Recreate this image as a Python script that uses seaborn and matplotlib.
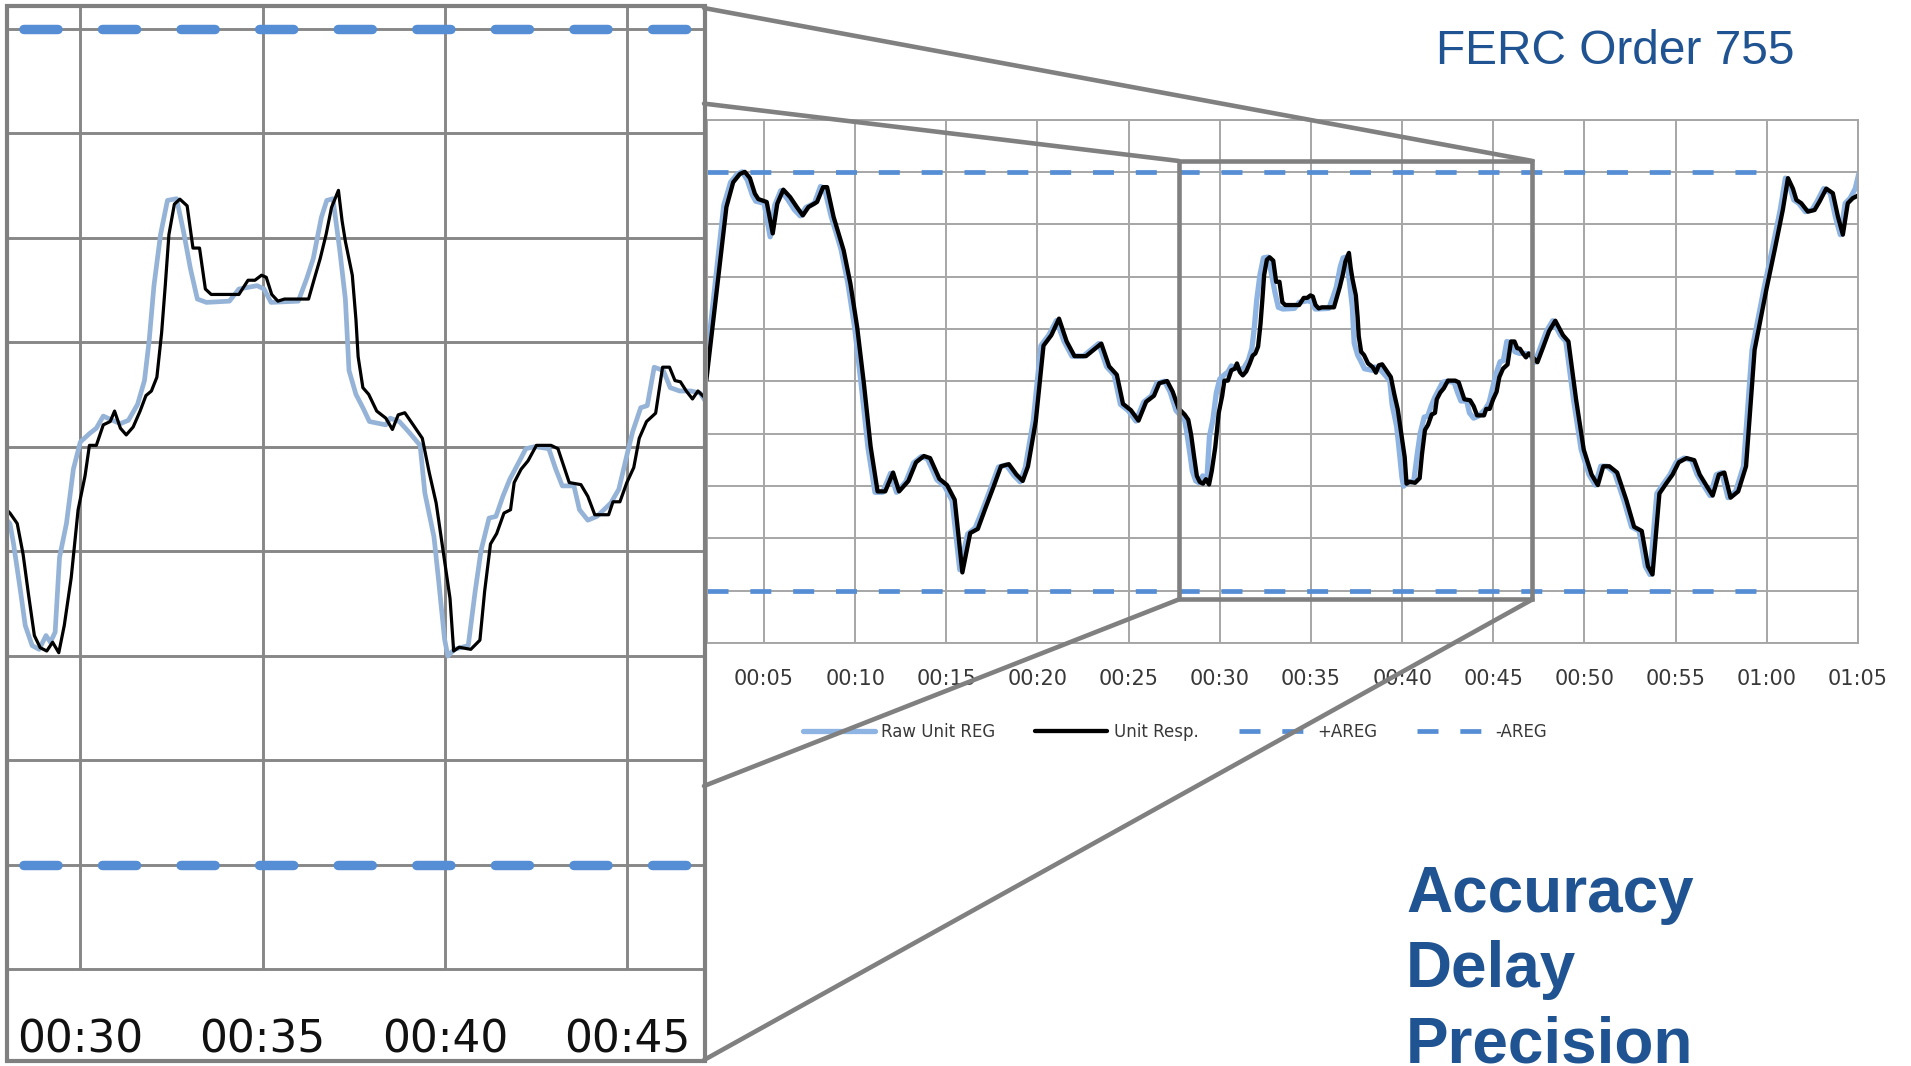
import matplotlib
matplotlib.use("Agg")
import matplotlib.pyplot as plt
import seaborn as sns
import numpy as np
from matplotlib.patches import Rectangle, ConnectionPatch

sns.set_style("white")
plt.rcParams["font.family"] = ["DejaVu Sans"]

# ---------------- data (minutes, normalised regulation signal) ----------------
tick_minutes = [5, 10, 15, 20, 25, 30, 35, 40, 45, 50, 55, 60, 65]
tick_labels = ["00:05", "00:10", "00:15", "00:20", "00:25", "00:30", "00:35",
               "00:40", "00:45", "00:50", "00:55", "01:00", "01:05"]
inset_tick_minutes = [30, 35, 40, 45]
inset_tick_labels = ["00:30", "00:35", "00:40", "00:45"]
grid_levels = [-1.25, -1.0, -0.75, -0.5, -0.25, 0.0, 0.25, 0.5, 0.75, 1.0, 1.25]
inset_grid_levels = [-1.0, -0.75, -0.5, -0.25, 0.0, 0.25, 0.5, 0.75, 1.0]

resp_t = [
    1.84, 2.94, 3.31, 3.68, 3.95, 4.23, 4.50, 4.69, 5.15, 5.48,
    5.73, 6.06, 6.43, 6.80, 7.13, 7.44, 7.91, 8.24, 8.46, 8.82,
    9.37, 9.74, 10.11, 10.48, 10.85, 11.23, 11.65, 12.08, 12.41, 12.92,
    13.34, 13.77, 14.11, 14.62, 15.04, 15.46, 15.88, 16.31, 16.73, 17.15,
    17.58, 18.00, 18.43, 18.85, 19.19, 19.48, 19.91, 20.33, 20.76, 21.18,
    21.60, 22.03, 22.66, 23.08, 23.50, 23.93, 24.35, 24.69, 25.12, 25.54,
    25.96, 26.39, 26.68, 27.11, 27.41, 27.74,
    28.07, 28.27, 28.43, 28.58, 28.74, 28.90, 29.08, 29.24, 29.41, 29.56,
    29.75, 29.94, 30.13, 30.25, 30.44, 30.63, 30.82, 30.94, 31.10, 31.26,
    31.45, 31.64, 31.80, 31.95, 32.10, 32.23, 32.33, 32.43, 32.58, 32.73,
    32.93, 33.09, 33.27, 33.43, 33.59, 34.35, 34.60, 34.79, 34.97, 35.10,
    35.25, 35.42, 35.60, 36.26, 36.42, 36.58, 36.74, 36.89, 37.08, 37.18,
    37.27, 37.46, 37.56, 37.62, 37.75, 37.91, 38.13, 38.38, 38.56, 38.72,
    38.90, 39.13, 39.38, 39.57, 39.76, 39.95, 40.14, 40.24, 40.39, 40.71,
    40.96, 41.09, 41.25, 41.42, 41.62, 41.80, 41.90, 42.09, 42.28, 42.51,
    42.91, 43.10, 43.41, 43.73, 43.92, 44.11, 44.49, 44.61, 44.80, 44.99,
    45.18, 45.33, 45.53, 45.78, 45.97, 46.16, 46.31, 46.46, 46.62, 46.79,
    46.94, 47.07,
    47.42, 47.72, 48.06, 48.40, 48.82, 49.12, 49.54, 49.96, 50.39, 50.73,
    51.03, 51.36, 51.79, 52.29, 52.72, 53.14, 53.48, 53.73, 54.11, 54.50,
    54.83, 55.17, 55.60, 56.02, 56.32, 56.74, 57.03, 57.37, 57.67, 58.01,
    58.43, 58.86, 59.33, 59.97, 60.43, 60.88, 61.16, 61.43, 61.62, 61.89,
    62.25, 62.62, 62.89, 63.26, 63.62, 63.90, 64.17, 64.44, 64.71, 65.07,
]
resp_v = [
    0.005, 0.832, 0.95, 0.99, 1.0, 0.97, 0.896, 0.87, 0.856, 0.706,
    0.848, 0.915, 0.88, 0.832, 0.792, 0.832, 0.856, 0.927, 0.927, 0.784,
    0.625, 0.466, 0.259, -0.011, -0.313, -0.526, -0.526, -0.436, -0.526, -0.476,
    -0.387, -0.357, -0.367, -0.466, -0.496, -0.566, -0.913, -0.725, -0.705, -0.605,
    -0.506, -0.406, -0.396, -0.446, -0.476, -0.406, -0.188, 0.170, 0.220, 0.299,
    0.190, 0.120, 0.120, 0.150, 0.180, 0.071, 0.031, -0.108, -0.138, -0.188,
    -0.098, -0.069, -0.009, 0.001, -0.049, -0.13,
    -0.159, -0.184, -0.257, -0.354, -0.452, -0.481, -0.489, -0.468, -0.493, -0.428,
    -0.314, -0.151, -0.070, 0.003, 0.003, 0.052, 0.060, 0.085, 0.044, 0.028,
    0.047, 0.085, 0.122, 0.133, 0.166, 0.272, 0.385, 0.507, 0.580, 0.592,
    0.576, 0.475, 0.475, 0.377, 0.364, 0.364, 0.398, 0.398, 0.410, 0.405,
    0.364, 0.348, 0.353, 0.353, 0.402, 0.450, 0.507, 0.572, 0.613, 0.540,
    0.491, 0.410, 0.304, 0.215, 0.141, 0.125, 0.085, 0.068, 0.041, 0.076,
    0.081, 0.052, 0.020, -0.062, -0.135, -0.249, -0.363, -0.489, -0.480, -0.485,
    -0.463, -0.346, -0.233, -0.208, -0.159, -0.151, -0.086, -0.054, -0.034, 0.003,
    0.003, -0.005, -0.086, -0.091, -0.119, -0.163, -0.163, -0.132, -0.132, -0.086,
    -0.050, 0.020, 0.060, 0.080, 0.190, 0.190, 0.158, 0.155, 0.133, 0.114,
    0.133, 0.122,
    0.091, 0.160, 0.240, 0.289, 0.220, 0.190, -0.088, -0.327, -0.446, -0.496,
    -0.406, -0.406, -0.436, -0.566, -0.695, -0.715, -0.884, -0.923, -0.536, -0.486,
    -0.446, -0.387, -0.367, -0.377, -0.446, -0.506, -0.546, -0.446, -0.436, -0.556,
    -0.526, -0.406, 0.150, 0.436, 0.627, 0.820, 0.970, 0.920, 0.866, 0.850,
    0.810, 0.818, 0.858, 0.920, 0.898, 0.786, 0.700, 0.850, 0.874, 0.890,
]

raw_t = [
    1.84, 2.80, 3.17, 3.54, 3.81, 4.09, 4.36, 4.55, 5.01, 5.34,
    5.59, 5.92, 6.29, 6.66, 6.99, 7.30, 7.77, 8.10, 8.32, 8.68,
    9.23, 9.60, 9.97, 10.34, 10.71, 11.09, 11.51, 11.94, 12.27, 12.78,
    13.20, 13.63, 13.97, 14.48, 14.90, 15.32, 15.74, 16.17, 16.59, 17.01,
    17.44, 17.86, 18.29, 18.71, 19.05, 19.34, 19.77, 20.19, 20.62, 21.04,
    21.46, 21.89, 22.52, 22.94, 23.36, 23.79, 24.21, 24.55, 24.98, 25.40,
    25.82, 26.25, 26.54, 26.97, 27.27, 27.60,
    28.07, 28.17, 28.36, 28.49, 28.68, 28.87, 29.06, 29.18, 29.31, 29.43,
    29.62, 29.81, 30.00, 30.25, 30.44, 30.63, 30.88, 31.10, 31.32, 31.57,
    31.76, 31.89, 32.02, 32.20, 32.39, 32.64, 32.83, 33.02, 33.21, 33.46,
    34.09, 34.35, 34.85, 35.04, 35.23, 35.98, 36.21, 36.39, 36.61, 36.76,
    36.93, 37.12, 37.27, 37.37, 37.56, 37.75, 37.93, 38.38, 38.50, 38.75,
    39.00, 39.32, 39.45, 39.70, 39.82, 39.99, 40.08, 40.26, 40.64, 40.83,
    40.99, 41.21, 41.40, 41.59, 41.78, 42.03, 42.22, 42.47, 42.85, 43.04,
    43.22, 43.54, 43.69, 43.92, 44.17, 44.55, 44.77, 44.99, 45.15, 45.37,
    45.55, 45.74, 45.99, 46.18, 46.44, 46.75, 47.00,
    47.28, 47.58, 47.92, 48.26, 48.68, 48.98, 49.40, 49.82, 50.25, 50.59,
    50.89, 51.22, 51.65, 52.15, 52.58, 53.00, 53.34, 53.59, 53.97, 54.36,
    54.69, 55.03, 55.46, 55.88, 56.18, 56.60, 56.89, 57.23, 57.53, 57.87,
    58.29, 58.72, 59.19, 59.83, 60.29, 60.74, 61.02, 61.29, 61.48, 61.75,
    62.11, 62.48, 62.75, 63.12, 63.48, 63.76, 64.03, 64.30, 64.57, 64.85, 65.07,
]
raw_v = [
    0.08, 0.84, 0.95, 0.99, 1.0, 0.96, 0.89, 0.86, 0.85, 0.69,
    0.84, 0.91, 0.87, 0.82, 0.79, 0.83, 0.85, 0.93, 0.92, 0.79,
    0.63, 0.47, 0.26, -0.02, -0.32, -0.53, -0.53, -0.44, -0.53, -0.48,
    -0.39, -0.36, -0.37, -0.47, -0.50, -0.57, -0.90, -0.73, -0.70, -0.61,
    -0.51, -0.41, -0.40, -0.45, -0.48, -0.41, -0.19, 0.17, 0.22, 0.29,
    0.19, 0.12, 0.12, 0.15, 0.18, 0.07, 0.03, -0.11, -0.14, -0.19,
    -0.10, -0.07, -0.01, 0.0, -0.05, -0.14,
    -0.184, -0.233, -0.346, -0.428, -0.476, -0.485, -0.452, -0.468, -0.444, -0.265,
    -0.184, -0.054, 0.011, 0.031, 0.044, 0.073, 0.063, 0.055, 0.063, 0.101,
    0.158, 0.255, 0.385, 0.507, 0.589, 0.593, 0.515, 0.426, 0.353, 0.345,
    0.348, 0.377, 0.385, 0.377, 0.345, 0.348, 0.402, 0.450, 0.548, 0.589,
    0.593, 0.467, 0.353, 0.182, 0.125, 0.093, 0.060, 0.052, 0.068, 0.060,
    0.036, 0.003, -0.111, -0.216, -0.314, -0.460, -0.501, -0.485, -0.476, -0.346,
    -0.249, -0.171, -0.167, -0.119, -0.078, -0.037, -0.005, 0.0, -0.005, -0.054,
    -0.094, -0.094, -0.151, -0.176, -0.167, -0.135, -0.102, -0.021, 0.036, 0.093,
    0.098, 0.190, 0.182, 0.141, 0.133, 0.133, 0.128,
    0.091, 0.160, 0.240, 0.289, 0.220, 0.190, -0.088, -0.327, -0.446, -0.496,
    -0.406, -0.406, -0.436, -0.566, -0.695, -0.715, -0.884, -0.923, -0.536, -0.486,
    -0.446, -0.387, -0.367, -0.377, -0.446, -0.506, -0.546, -0.446, -0.436, -0.556,
    -0.526, -0.406, 0.150, 0.436, 0.627, 0.820, 0.970, 0.920, 0.866, 0.850,
    0.810, 0.818, 0.858, 0.920, 0.898, 0.786, 0.700, 0.850, 0.874, 0.920, 1.000,
]

areg_t = [1.875, 59.4]
areg_plus = [1.0, 1.0]
areg_minus = [-1.0, -1.0]

zoom_t = [27.75, 47.14]
zoom_v = [-1.042, 1.052]

series_labels = ["Raw Unit REG", "Unit Resp.", "+AREG", "-AREG"]
side_lines = ["Accuracy", "Delay", "Precision"]
title_text = "FERC Order 755"

# ---------------- styling ----------------
RAW_C = "#8DB4E2"
RAW_C_IN = "#95B3D7"
AREG_C = "#558ED5"
GRID_MAIN = "#A6A6A6"
GRID_INSET = "#878787"
FRAME_C = "#808080"
BLUE_TXT = "#1F5391"

W, H = 1911, 1066


def fx(p):
    return p / W


def fy(p):
    return 1 - p / H


fig = plt.figure(figsize=(W / 100, H / 100), dpi=100)
fig.patch.set_facecolor("white")

# ---------------- main chart ----------------
ax = fig.add_axes([fx(707), fy(643), (1858 - 707) / W, (643 - 119.5) / H])
sns.lineplot(x=raw_t, y=raw_v, ax=ax, color=RAW_C, lw=3.8, sort=False,
             estimator=None, legend=False)
h_raw = ax.lines[-1]
sns.lineplot(x=resp_t, y=resp_v, ax=ax, color="black", lw=3.1, sort=False,
             estimator=None, legend=False)
h_resp = ax.lines[-1]
sns.lineplot(x=areg_t, y=areg_plus, ax=ax, color=AREG_C, lw=3.4,
             linestyle=(0, (4.45, 4.62)), dash_capstyle="butt",
             sort=False, estimator=None, legend=False)
h_plus = ax.lines[-1]
sns.lineplot(x=areg_t, y=areg_minus, ax=ax, color=AREG_C, lw=3.4,
             linestyle=(0, (4.45, 4.62)), dash_capstyle="butt",
             sort=False, estimator=None, legend=False)
h_minus = ax.lines[-1]

ax.set_xlim(1.875, 65)
ax.set_ylim(-1.25, 1.25)
ax.set_xticks(tick_minutes, tick_labels)
ax.set_yticks(grid_levels)
ax.tick_params(axis="y", left=False, labelleft=False, length=0)
ax.tick_params(axis="x", length=0, pad=19, labelsize=15, labelcolor="#383838")
ax.grid(True, color=GRID_MAIN, lw=1.4)
ax.set_axisbelow(True)
for s in ax.spines.values():
    s.set_color(GRID_MAIN)
    s.set_linewidth(1.4)
ax.set_xlabel("")
ax.set_ylabel("")

ax.add_patch(Rectangle((zoom_t[0], zoom_v[0]), zoom_t[1] - zoom_t[0],
                       zoom_v[1] - zoom_v[0], fill=False, ec=FRAME_C,
                       lw=3.3, zorder=6))

leg = ax.legend(handles=[h_raw, h_resp, h_plus, h_minus], labels=series_labels,
                loc="center", bbox_to_anchor=(fx(1175), fy(732)),
                bbox_transform=fig.transFigure, ncol=4, frameon=False,
                fontsize=12, handlelength=4.3, handletextpad=0.4,
                columnspacing=2.4)
for t in leg.get_texts():
    t.set_color("#383838")

# ---------------- zoomed inset ----------------
axi = fig.add_axes([fx(8), fy(968.7), (704.8 - 8) / W, (968.7 - 5.4) / H])
sns.lineplot(x=raw_t, y=raw_v, ax=axi, color=RAW_C_IN, lw=3.4, sort=False,
             estimator=None, legend=False)
sns.lineplot(x=resp_t, y=resp_v, ax=axi, color="black", lw=2.3, sort=False,
             estimator=None, legend=False)
for yv in (areg_plus, areg_minus):
    sns.lineplot(x=areg_t, y=yv, ax=axi, color=AREG_C, lw=6.8,
                 linestyle=(5.74, (3.62, 4.70)), dash_capstyle="round",
                 sort=False, estimator=None, legend=False)
axi.set_xlim(28.017, 47.128)
axi.set_ylim(-1.249, 1.0555)
axi.set_xticks(inset_tick_minutes, inset_tick_labels)
axi.set_yticks(inset_grid_levels)
axi.tick_params(axis="x", length=0, pad=36, labelsize=31.5, labelcolor="#111111")
axi.tick_params(axis="y", left=False, labelleft=False, length=0)
axi.grid(True, color=GRID_INSET, lw=2.1)
axi.set_axisbelow(True)
for k in ("top", "left", "right"):
    axi.spines[k].set_visible(False)
axi.spines["bottom"].set_color(GRID_INSET)
axi.spines["bottom"].set_linewidth(2.1)
axi.set_xlabel("")
axi.set_ylabel("")

# outer frame of the inset
fig.add_artist(Rectangle((fx(6.5), fy(1061)), (705 - 6.5) / W, (1061 - 5.5) / H,
                         transform=fig.transFigure, fill=False, ec=FRAME_C,
                         lw=3.0, zorder=10))

# connecting lines between inset and zoom window
links = [((704, 103.6), (zoom_t[0], zoom_v[1])),
         ((704, 8), (zoom_t[1], zoom_v[1])),
         ((704, 786), (zoom_t[0], zoom_v[0])),
         ((704, 1060), (zoom_t[1], zoom_v[0]))]
for (px, py), xyb in links:
    con = ConnectionPatch(xyA=(fx(px), fy(py)), coordsA="figure fraction",
                          xyB=xyb, coordsB="data", axesB=ax,
                          color=FRAME_C, lw=3.3, shrinkA=0, shrinkB=0,
                          zorder=10)
    fig.add_artist(con)

# ---------------- texts ----------------
fig.text(fx(1436), fy(64.3), title_text, fontsize=34.5,
         family=["Liberation Sans", "DejaVu Sans"], color=BLUE_TXT,
         ha="left", va="baseline")
for txt, base in zip(side_lines, [911.7, 986.7, 1062.7]):
    fig.text(fx(1406), fy(base), txt, fontsize=46, weight="bold",
             family=["Liberation Sans", "DejaVu Sans"], color=BLUE_TXT,
             ha="left", va="baseline")

fig.savefig("out.png", dpi=100, facecolor="white")
